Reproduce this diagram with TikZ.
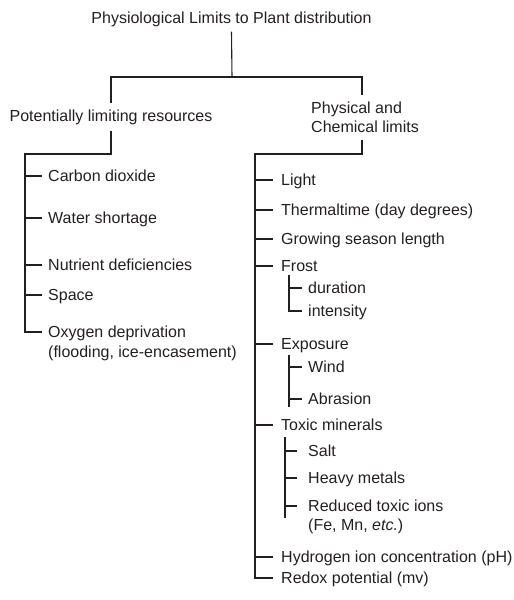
\documentclass[tikz,border=0pt]{standalone}
\usepackage{fontspec}
\setmainfont{Liberation Sans}
\definecolor{ink}{HTML}{231F20}
\begin{document}
\begin{tikzpicture}[x=1pt,y=-1pt,
  txt/.style={font=\fontsize{16}{19.5}\selectfont, text=ink, inner sep=0pt},
  item/.style={txt, anchor=west, text height=11.6pt, text depth=0pt},
  conn/.style={draw=ink, line width=1.1pt}]
\useasboundingbox (0,0) rectangle (514,600);
% headings
\node[txt, inner sep=5pt] (title) at (231.5,19) {Physiological Limits to Plant distribution};
\node[txt, inner xsep=0pt, inner ysep=6.5pt] (res) at (111,117) {Potentially limiting resources};
\node[txt, align=left, inner xsep=0pt, inner ysep=7pt] (phys) at (365,117.5) {Physical and\\Chemical limits};
% left items
\node[item] (co2) at (48,176) {Carbon dioxide};
\node[item] (water) at (48,218) {Water shortage};
\node[item] (nutr) at (48,265) {Nutrient deficiencies};
\node[item] (space) at (48,295) {Space};
\node[item] (oxy) at (48,332) {Oxygen deprivation};
\node[item] (oxy2) at (48,352) {(flooding, ice-encasement)};
% right items
\node[item] (light) at (281,180) {Light};
\node[item] (therm) at (281,210) {Thermaltime (day degrees)};
\node[item] (grow) at (281,239) {Growing season length};
\node[item] (frost) at (281,266) {Frost};
\node[item] (dur) at (308,288) {duration};
\node[item] (int) at (308,311) {intensity};
\node[item] (expo) at (281,344) {Exposure};
\node[item] (wind) at (308,367) {Wind};
\node[item] (abr) at (308,399) {Abrasion};
\node[item] (toxic) at (281,425) {Toxic minerals};
\node[item] (salt) at (308,451) {Salt};
\node[item] (heavy) at (308,478) {Heavy metals};
\node[item] (red) at (308,506) {Reduced toxic ions};
\node[item] (red2) at (308,525) {(Fe, Mn, \textit{etc.})};
\node[item] (hyd) at (281,557) {Hydrogen ion concentration (pH)};
\node[item] (redox) at (281,578) {Redox potential (mv)};
% top connectors
\coordinate (J) at (232,77);
\draw[conn] (title.south) -- (J);
\draw[conn] (res.north) |- (J) -| ([xshift=-3pt]phys.north);
% left bracket
\coordinate (L) at (25,154);
\draw[conn] (res.south) |- (L) -- (L |- oxy.west) -- ([xshift=-6pt]oxy.west);
\foreach \n in {co2,water,nutr,space}
  \draw[conn] (L |- \n.west) -- ([xshift=-6pt]\n.west);
% right bracket
\coordinate (R) at (255,154);
\draw[conn] ([xshift=-3pt]phys.south) |- (R) -- (R |- redox.west) -- ([xshift=-8pt]redox.west);
\foreach \n in {light,therm,grow,frost,expo,toxic,hyd}
  \draw[conn] (R |- \n.west) -- ([xshift=-8pt]\n.west);
% frost sub
\coordinate (F) at (289,275);
\draw[conn] (F) |- ([xshift=-6pt]int.west);
\draw[conn] (F |- dur.west) -- ([xshift=-6pt]dur.west);
% exposure sub
\coordinate (E1) at (289,355);
\coordinate (E2) at (289,407);
\draw[conn] (E1) -- (E2);
\foreach \n in {wind,abr}
  \draw[conn] (E1 |- \n.west) -- ([xshift=-6pt]\n.west);
% toxic sub
\coordinate (T1) at (285,437);
\coordinate (T2) at (285,518);
\draw[conn] (T1) -- (T2);
\foreach \n in {salt,heavy,red}
  \draw[conn] (T1 |- \n.west) -- ([xshift=-11pt]\n.west);
\end{tikzpicture}
\end{document}
